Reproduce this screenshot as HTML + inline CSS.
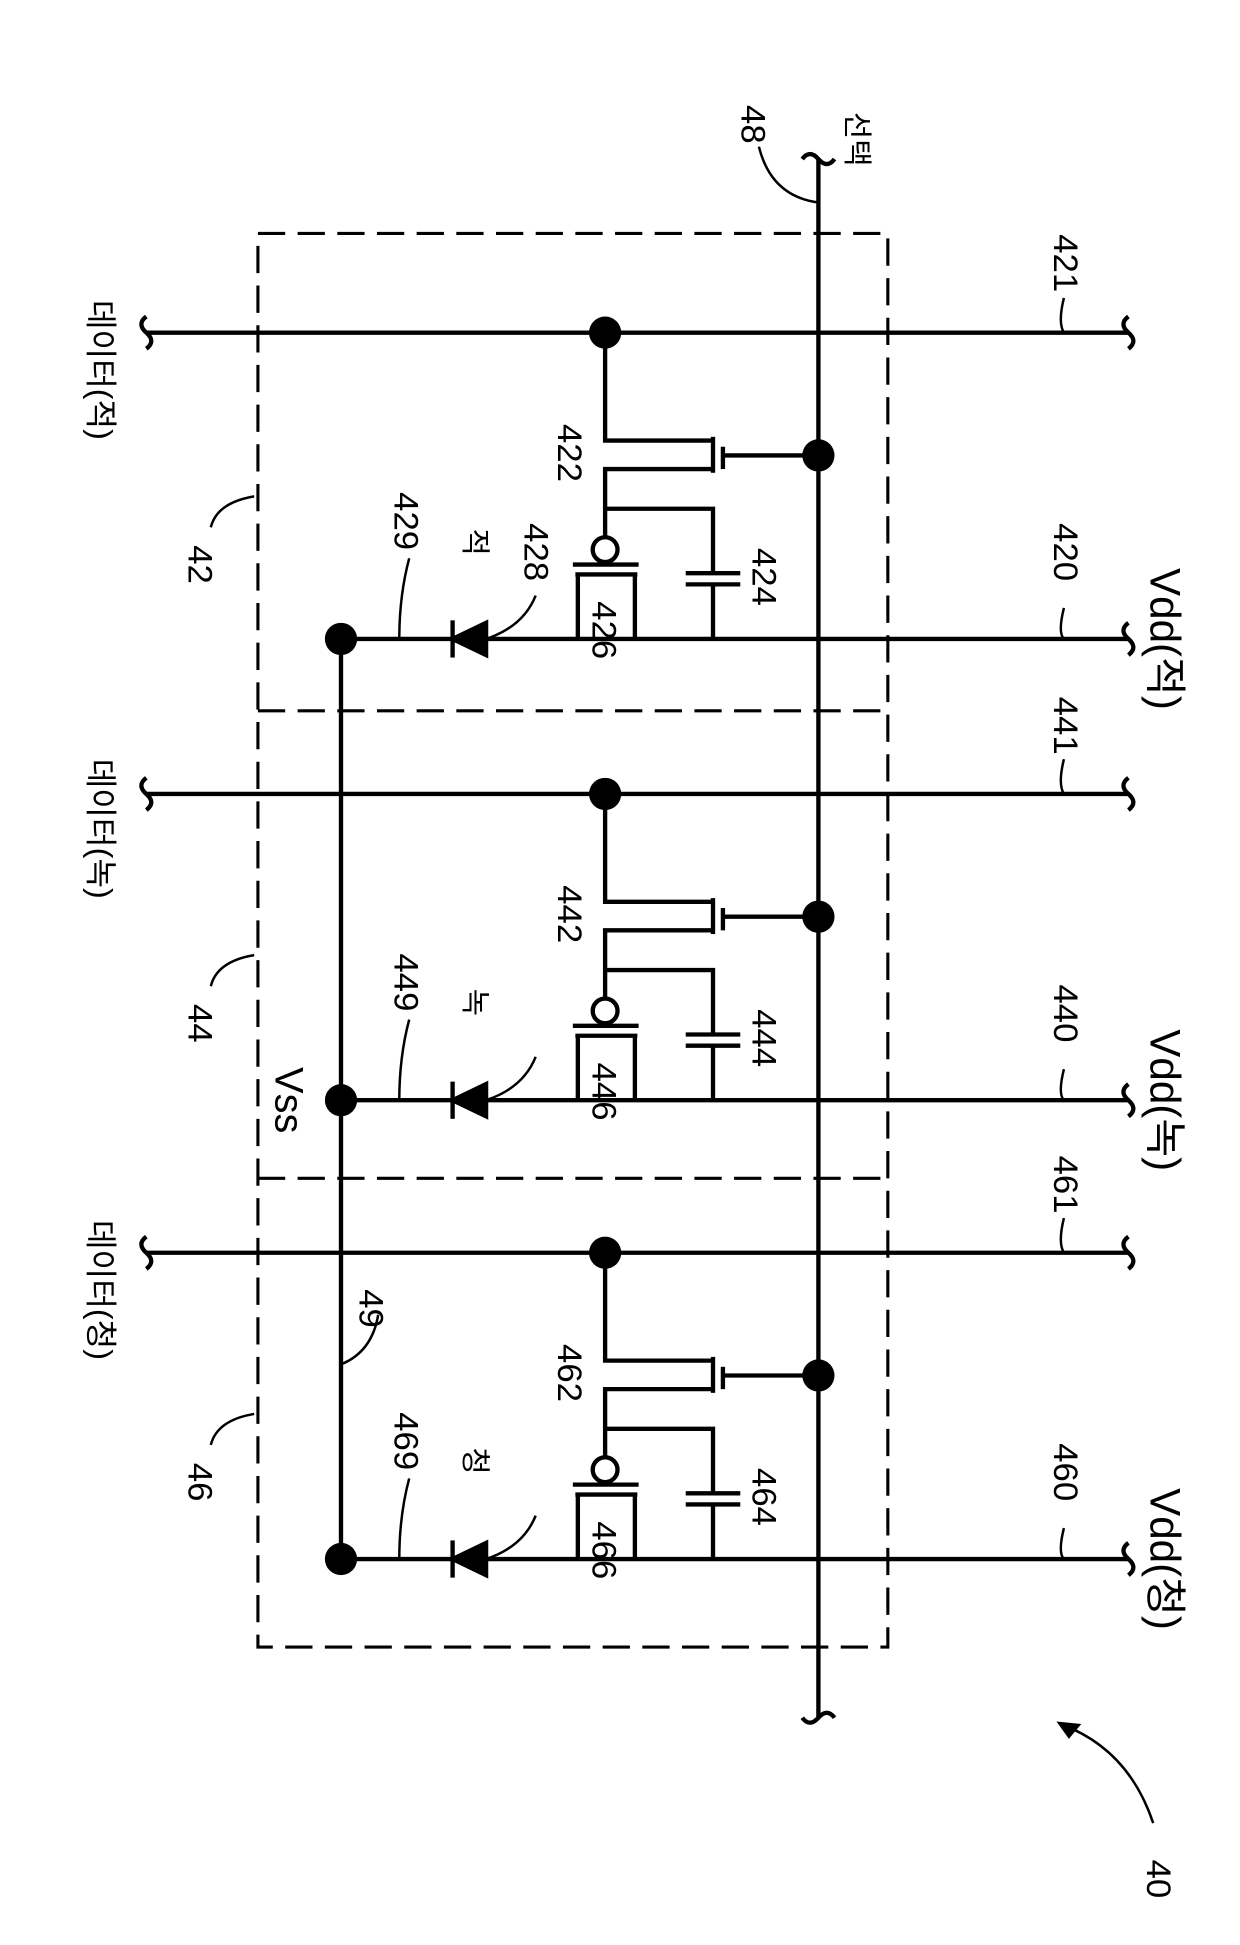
<!DOCTYPE html>
<html><head><meta charset="utf-8"><style>
html,body{margin:0;padding:0;background:#fff;}
svg{display:block;}
text{font-family:"Liberation Sans","Noto Sans CJK KR",sans-serif;fill:#000;}
</style></head><body>
<svg width="1240" height="1945" viewBox="0 0 1000 1568" xmlns="http://www.w3.org/2000/svg">
<defs>
<g id="cell" fill="none" stroke="#000" stroke-width="3.5">
  <!-- data line -->
  <line x1="118" y1="268" x2="910" y2="268"/>
  <path d="M118 255 q-8 6 0 13 q8 7 0 13" />
  <path d="M910 255 q-8 6 0 13 q8 7 0 13" />
  <!-- vdd line -->
  <line x1="275" y1="515" x2="910" y2="515"/>
  <path d="M910 502 q-8 6 0 13 q8 7 0 13" />
  <!-- switch transistor -->
  <polyline points="488,268 488,355 575,355"/>
  <line x1="575" y1="352" x2="575" y2="381"/>
  <line x1="583" y1="360" x2="583" y2="378"/>
  <line x1="583" y1="367" x2="660" y2="367"/>
  <polyline points="575,378 488,378 488,432"/>
  <polyline points="488,410 575,410 575,462"/>
  <line x1="553" y1="462" x2="597" y2="462"/>
  <line x1="553" y1="471" x2="597" y2="471"/>
  <line x1="575" y1="471" x2="575" y2="515"/>
  <!-- drive transistor -->
  <circle cx="488" cy="443" r="10"/>
  <line x1="462" y1="455" x2="515" y2="455"/>
  <line x1="464" y1="463" x2="514" y2="463"/>
  <line x1="466" y1="463" x2="466" y2="515"/>
  <line x1="512" y1="463" x2="512" y2="515"/>
  <!-- diode -->
  <line x1="365" y1="500" x2="365" y2="530"/>
  <polygon points="365,515 392,502 392,528" fill="#000"/>
</g>
</defs>

<!-- dashed box -->
<rect x="208" y="188" width="508" height="1140" fill="none" stroke="#000" stroke-width="2.5" stroke-dasharray="22,10"/>
<line x1="208" y1="573" x2="716" y2="573" stroke="#000" stroke-width="2.5" stroke-dasharray="22,10"/>
<line x1="208" y1="950" x2="716" y2="950" stroke="#000" stroke-width="2.5" stroke-dasharray="22,10"/>

<use href="#cell"/>
<use href="#cell" y="372"/>
<use href="#cell" y="742"/>

<!-- select line -->
<line x1="660" y1="128" x2="660" y2="1385" stroke="#000" stroke-width="3.5"/>
<path d="M647 128 q6 -8 13 0 q7 8 13 0" fill="none" stroke="#000" stroke-width="3.5"/>
<path d="M647 1385 q6 8 13 0 q7 -8 13 0" fill="none" stroke="#000" stroke-width="3.5"/>
<!-- Vss line -->
<line x1="275" y1="515" x2="275" y2="1257" stroke="#000" stroke-width="3.5"/>

<!-- dots -->
<g fill="#000">
<circle cx="488" cy="268" r="13"/><circle cx="660" cy="367" r="13"/><circle cx="275" cy="515" r="13"/>
<circle cx="488" cy="640" r="13"/><circle cx="660" cy="739" r="13"/><circle cx="275" cy="887" r="13"/>
<circle cx="488" cy="1010" r="13"/><circle cx="660" cy="1109" r="13"/><circle cx="275" cy="1257" r="13"/>
</g>

<!-- leader lines -->
<g fill="none" stroke="#000" stroke-width="2">
<path d="M858 240 q-5 20 0 28"/><path d="M858 612 q-5 20 0 28"/><path d="M858 982 q-5 20 0 28"/>
<path d="M858 490 q-5 20 0 25"/><path d="M858 862 q-5 20 0 25"/><path d="M858 1232 q-5 20 0 25"/>
<path d="M612 118 q10 40 48 45"/>
<path d="M330 450 q-8 30 -8 65"/><path d="M330 822 q-8 30 -8 65"/><path d="M330 1192 q-8 30 -8 65"/>
<path d="M432 480 q-10 25 -40 35"/><path d="M432 852 q-10 25 -40 35"/><path d="M432 1222 q-10 25 -40 35"/>
<path d="M205 400 q-30 5 -35 25"/><path d="M205 770 q-30 5 -35 25"/><path d="M205 1140 q-30 5 -35 25"/>
<path d="M305 1060 q-5 30 -30 40"/>
<path d="M930 1470 q-20 -60 -75 -80"/>
</g>
<polygon points="852,1388 872,1390 862,1402" fill="#000"/>

<!-- labels rotated -->
<g font-size="28" text-anchor="middle">
<text transform="translate(850,212) rotate(90)">421</text>
<text transform="translate(850,585) rotate(90)">441</text>
<text transform="translate(850,955) rotate(90)">461</text>
<text transform="translate(850,445) rotate(90)">420</text>
<text transform="translate(850,817) rotate(90)">440</text>
<text transform="translate(850,1187) rotate(90)">460</text>
<text transform="translate(450,365) rotate(90)">422</text>
<text transform="translate(450,737) rotate(90)">442</text>
<text transform="translate(450,1107) rotate(90)">462</text>
<text transform="translate(607,465) rotate(90)">424</text>
<text transform="translate(607,837) rotate(90)">444</text>
<text transform="translate(607,1207) rotate(90)">464</text>
<text transform="translate(478,508) rotate(90)">426</text>
<text transform="translate(478,880) rotate(90)">446</text>
<text transform="translate(478,1250) rotate(90)">466</text>
<text transform="translate(423,445) rotate(90)">428</text>
<text transform="translate(318,420) rotate(90)">429</text>
<text transform="translate(318,792) rotate(90)">449</text>
<text transform="translate(318,1162) rotate(90)">469</text>
<text transform="translate(152,455) rotate(90)">42</text>
<text transform="translate(152,825) rotate(90)">44</text>
<text transform="translate(152,1195) rotate(90)">46</text>
<text transform="translate(290,1055) rotate(90)">49</text>
<text transform="translate(598,100) rotate(90)">48</text>
<text transform="translate(925,1515) rotate(90)">40</text>
<text font-size="32" transform="translate(222,887) rotate(90)">Vss</text>
<text font-size="34" transform="translate(928,515) rotate(90)">Vdd(적)</text>
<text font-size="34" transform="translate(928,887) rotate(90)">Vdd(녹)</text>
<text font-size="34" transform="translate(928,1257) rotate(90)">Vdd(청)</text>
<text font-size="26" transform="translate(72,298) rotate(90)">데이터(적)</text>
<text font-size="26" transform="translate(72,668) rotate(90)">데이터(녹)</text>
<text font-size="26" transform="translate(72,1040) rotate(90)">데이터(청)</text>
<text font-size="24" transform="translate(683,112) rotate(90)">선택</text>
<text font-size="24" transform="translate(375,437) rotate(90)">적</text>
<text font-size="24" transform="translate(375,808) rotate(90)">녹</text>
<text font-size="24" transform="translate(375,1178) rotate(90)">청</text>
</g>
</svg>
</body></html>
